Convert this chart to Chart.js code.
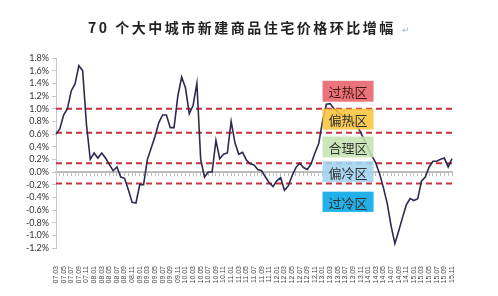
<!DOCTYPE html>
<html>
<head>
<meta charset="utf-8">
<script src="https://cdn.jsdelivr.net/npm/chart.js@4.4.1/dist/chart.umd.min.js"></script>
<style>
    html, body { margin: 0; padding: 0; background: #fff; }
    #wrap { position: relative; width: 498px; height: 296px; }
    #title {
        position: absolute; top: 18px; left: 88px;
        font-family: "Noto Sans CJK SC", sans-serif; font-weight: bold;
        font-size: 14px; letter-spacing: 2.5px; line-height: 18px; color: #222;
        white-space: nowrap;
    }
    #title span { color: #9fb4c8; font-size: 9px; font-weight: normal; margin-left: 6px; }
</style>
</head>
<body>
<div id="wrap">
    <div id="title">70 个大中城市新建商品住宅价格环比增幅<span>↵</span></div>
    <canvas id="chart" width="498" height="296"></canvas>
</div>
<script>
// 月份标签 (07.03 - 15.11)
const months = [
    "07.03","07.04","07.05","07.06","07.07","07.08","07.09","07.10","07.11","07.12",
    "08.01","08.02","08.03","08.04","08.05","08.06","08.07","08.08","08.09","08.10","08.11","08.12",
    "09.01","09.02","09.03","09.04","09.05","09.06","09.07","09.08","09.09","09.10","09.11","09.12",
    "10.01","10.02","10.03","10.04","10.05","10.06","10.07","10.08","10.09","10.10","10.11","10.12",
    "11.01","11.02","11.03","11.04","11.05","11.06","11.07","11.08","11.09","11.10","11.11","11.12",
    "12.01","12.02","12.03","12.04","12.05","12.06","12.07","12.08","12.09","12.10","12.11","12.12",
    "13.01","13.02","13.03","13.04","13.05","13.06","13.07","13.08","13.09","13.10","13.11","13.12",
    "14.01","14.02","14.03","14.04","14.05","14.06","14.07","14.08","14.09","14.10","14.11","14.12",
    "15.01","15.02","15.03","15.04","15.05","15.06","15.07","15.08","15.09","15.10","15.11"
];

// 环比增幅 (%)
const momChange = [
    0.60, 0.68, 0.90, 1.00, 1.28, 1.39, 1.68, 1.60, 0.75, 0.20,
    0.30, 0.22, 0.30, 0.22, 0.12, 0.02, 0.08, -0.08, -0.10, -0.28, -0.48, -0.49,
    -0.20, -0.20, 0.20, 0.38, 0.56, 0.78, 0.90, 0.90, 0.70, 0.70, 1.20, 1.50,
    1.33, 0.92, 1.05, 1.40, 0.20, -0.08, 0.00, 0.00, 0.50, 0.21, 0.28, 0.30,
    0.80, 0.46, 0.28, 0.31, 0.19, 0.13, 0.11, 0.04, 0.02, -0.08, -0.17, -0.23,
    -0.14, -0.09, -0.29, -0.22, -0.06, 0.07, 0.14, 0.07, 0.04, 0.13, 0.30, 0.45,
    0.80, 1.07, 1.08, 1.00, 0.95, 0.90, 0.88, 0.84, 0.80, 0.73, 0.63, 0.50,
    0.37, 0.25, 0.14, -0.03, -0.25, -0.50, -0.85, -1.13, -0.93, -0.72, -0.52, -0.42,
    -0.45, -0.42, -0.14, -0.08, 0.08, 0.17, 0.17, 0.20, 0.22, 0.08, 0.21
];

// 区间分界线 (%)
const thresholds = [1.0, 0.62, 0.14, -0.18];

// 区间名称
const zoneNames = ["过热区", "偏热区", "合理区", "偏冷区", "过冷区"];

// 区间标签框的位置与颜色 (x: 月份序号, y: 百分比)
const zoneBoxes = [
    { top: 1.44, bottom: 1.11, fill: "rgba(232,104,112,0.92)", text: "#4a1515" },
    { top: 1.00, bottom: 0.67, fill: "rgba(250,196,60,0.88)", text: "#333" },
    { top: 0.56, bottom: 0.23, fill: "rgba(196,226,174,0.88)", text: "#333" },
    { top: 0.17, bottom: -0.16, fill: "rgba(160,212,240,0.88)", text: "#333" },
    { top: -0.31, bottom: -0.63, fill: "rgba(22,172,232,0.95)", text: "#333" }
];
const boxFrom = 70, boxTo = 83.4;

const zonePlugin = {
    id: "zones",
    afterDatasetsDraw(chart) {
        const { ctx, scales } = chart;
        ctx.save();
        zoneBoxes.forEach((b, i) => {
            const x1 = scales.x.getPixelForValue(boxFrom);
            const x2 = scales.x.getPixelForValue(boxTo);
            const y1 = scales.y.getPixelForValue(b.top);
            const y2 = scales.y.getPixelForValue(b.bottom);
            ctx.fillStyle = b.fill;
            ctx.fillRect(x1, y1, x2 - x1, y2 - y1);
            ctx.fillStyle = b.text;
            ctx.font = "13px 'Noto Sans CJK SC'";
            ctx.textAlign = "center";
            ctx.textBaseline = "middle";
            ctx.fillText(zoneNames[i], (x1 + x2) / 2, (y1 + y2) / 2 + 1);
        });
        ctx.restore();
    }
};

const datasets = [
    {
        label: "环比增幅",
        data: momChange,
        borderColor: "#2e2a52",
        borderWidth: 1.6,
        pointRadius: 0,
        tension: 0
    }
];
thresholds.forEach(t => {
    datasets.push({
        label: "分界线",
        data: months.map(() => t),
        borderColor: "#c8323c",
        borderWidth: 2,
        borderDash: [6, 4],
        pointRadius: 0
    });
});

new Chart(document.getElementById("chart"), {
    type: "line",
    data: { labels: months, datasets: datasets },
    plugins: [zonePlugin],
    options: {
        responsive: false,
        animation: false,
        layout: { padding: { top: 58, right: 46, bottom: 0, left: 0 } },
        plugins: {
            legend: { display: false },
            title: { display: false },
            tooltip: { enabled: false }
        },
        scales: {
            x: {
                type: "category",
                grid: { display: false },
                border: { display: false },
                afterFit: s => { s.height = 48; },
                ticks: {
                    autoSkip: false,
                    minRotation: 90,
                    maxRotation: 90,
                    padding: 10,
                    color: "#444",
                    font: { family: "Liberation Sans", size: 7 },
                    callback: function (v, i) { return i % 2 === 0 ? this.getLabelForValue(v) : ""; }
                }
            },
            x2: {
                type: "category",
                labels: months,
                position: { y: 0 },
                grid: { drawOnChartArea: false, tickLength: 3, color: "#bdbdbd", offset: false },
                border: { color: "#bdbdbd", width: 2 },
                ticks: { display: false }
            },
            y: {
                min: -1.2,
                max: 1.8,
                afterFit: s => { s.width = 56; },
                grid: { display: true, drawOnChartArea: false, tickLength: 4, color: "#c8c8c8" },
                border: { color: "#c8c8c8" },
                ticks: {
                    stepSize: 0.2,
                    autoSkip: false,
                    padding: 3,
                    color: "#333",
                    font: { family: "Lato", size: 9 },
                    callback: v => v.toFixed(1) + "%"
                }
            }
        }
    }
});
</script>
</body>
</html>
